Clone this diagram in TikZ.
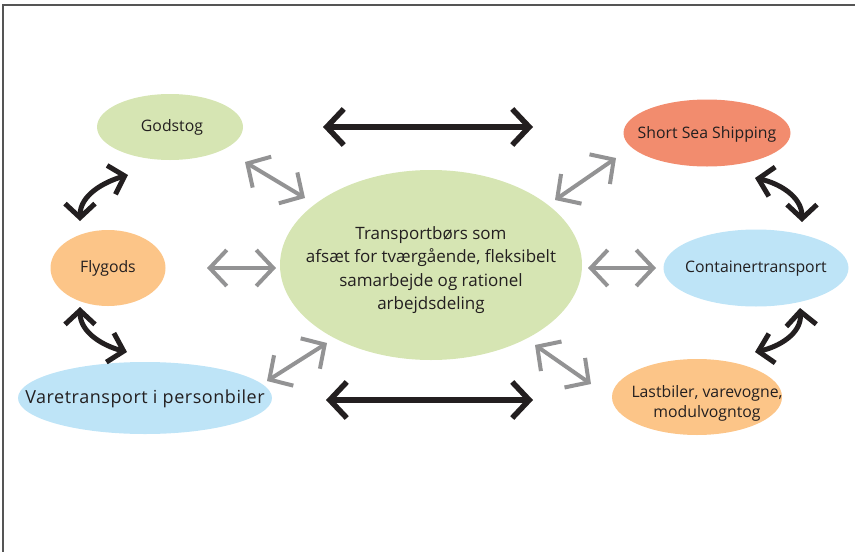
\documentclass[tikz,border=0pt]{standalone}
\usepackage{fontspec}
\setmainfont{Open Sans}
\usetikzlibrary{shapes.geometric,arrows.meta}
\definecolor{cgreen}{HTML}{D6E5B3}
\definecolor{corange}{HTML}{FCC588}
\definecolor{cblue}{HTML}{BEE4F7}
\definecolor{csalmon}{HTML}{F28C6E}
\definecolor{cgray}{HTML}{939394}
\definecolor{cblack}{HTML}{231F20}
\definecolor{cframe}{HTML}{555555}
\tikzset{
  blob/.style={ellipse, inner sep=0pt},
  lbl/.style={inner sep=0pt, text=cblack, align=center,
    font=\fontsize{15.8}{20}\selectfont},
  bigarrow/.style={cblack, line width=5.5pt,
    {Straight Barb[length=17pt,width=36pt]}-{Straight Barb[length=17pt,width=36pt]}},
  curvarrow/.style={cblack, line width=5pt,
    {Straight Barb[length=14pt,width=30pt]}-{Straight Barb[length=14pt,width=30pt]}},
  grayarrow/.style={cgray, line width=4pt,
    {Straight Barb[length=17pt,width=36pt]}-{Straight Barb[length=17pt,width=36pt]}},
}
\begin{document}
\begin{tikzpicture}[x=1pt,y=-1pt]
\useasboundingbox (0,0) rectangle (855,552);
\draw[cframe, line width=1.5pt] (3,552) -- (3,5) -- (855,5);

\node[blob, fill=cgreen, minimum width=146pt, minimum height=66pt] (god) at (170,127) {};
\node[lbl] (godtext) at (172,127) {Godstog};
\node[blob, fill=corange, minimum width=115pt, minimum height=76pt] (fly) at (108,268) {};
\node[lbl] (flytext) at (108,268) {Flygods};
\node[blob, fill=cblue, minimum width=254pt, minimum height=72pt] (vare) at (145,398) {};
\node[lbl, font=\fontsize{18}{20}\selectfont\addfontfeature{LetterSpace=3}] (varetext) at (145,399) {Varetransport i personbiler};
\node[blob, fill=cgreen, minimum width=302pt, minimum height=190pt] (mid) at (431,265) {};
\node[lbl, font=\fontsize{17}{23.5}\selectfont] (midtext) at (431,270) {Transportbørs som\\afsæt for tværgående, fleksibelt\\samarbejde og rationel\\arbejdsdeling};
\node[blob, fill=csalmon, minimum width=167pt, minimum height=67pt] (sss) at (707,133) {};
\node[lbl] (ssstext) at (707,134) {Short Sea Shipping};
\node[blob, fill=cblue, minimum width=185pt, minimum height=77pt] (cont) at (756,268) {};
\node[lbl] (conttext) at (756,269) {Containertransport};
\node[blob, fill=corange, minimum width=170pt, minimum height=76pt] (last) at (697,397) {};
\node[lbl] (lasttext) at (707,403) {Lastbiler, varevogne,\\modulvogntog};

% black straight arrows
\coordinate (t1) at (323,127); \coordinate (t2) at (533,127);
\coordinate (b1) at (326,400); \coordinate (b2) at (533,400);
\draw[bigarrow] (t1) -- (t2);
\draw[bigarrow] (b1) -- (b2);

% gray arrows
\coordinate (ga1) at (245,162); \coordinate (ga2) at (305,198);
\coordinate (gb1) at (207,268); \coordinate (gb2) at (276,268);
\coordinate (gc1) at (267,381); \coordinate (gc2) at (327,343);
\coordinate (gd1) at (555,200); \coordinate (gd2) at (616,158);
\coordinate (ge1) at (588,268); \coordinate (ge2) at (656,268);
\coordinate (gf1) at (535,345); \coordinate (gf2) at (591,384);
\draw[grayarrow] (ga1) -- (ga2);
\draw[grayarrow] (gb1) -- (gb2);
\draw[grayarrow] (gc1) -- (gc2);
\draw[grayarrow] (gd1) -- (gd2);
\draw[grayarrow] (ge1) -- (ge2);
\draw[grayarrow] (gf1) -- (gf2);

% curved black arrows
\coordinate (g1) at (80,221); \coordinate (g2) at (128,175);
\coordinate (f1) at (80,307); \coordinate (f2) at (127,352);
\coordinate (s1) at (755,178); \coordinate (s2) at (802,222);
\coordinate (c1) at (800,308); \coordinate (c2) at (755,352);
\draw[curvarrow] (g1) .. controls (80,195) and (104,182) .. (g2);
\draw[curvarrow] (f1) .. controls (80,333) and (104,346) .. (f2);
\draw[curvarrow] (s1) .. controls (778,183) and (802,196) .. (s2);
\draw[curvarrow] (c1) .. controls (802,334) and (778,347) .. (c2);
\end{tikzpicture}
\end{document}
